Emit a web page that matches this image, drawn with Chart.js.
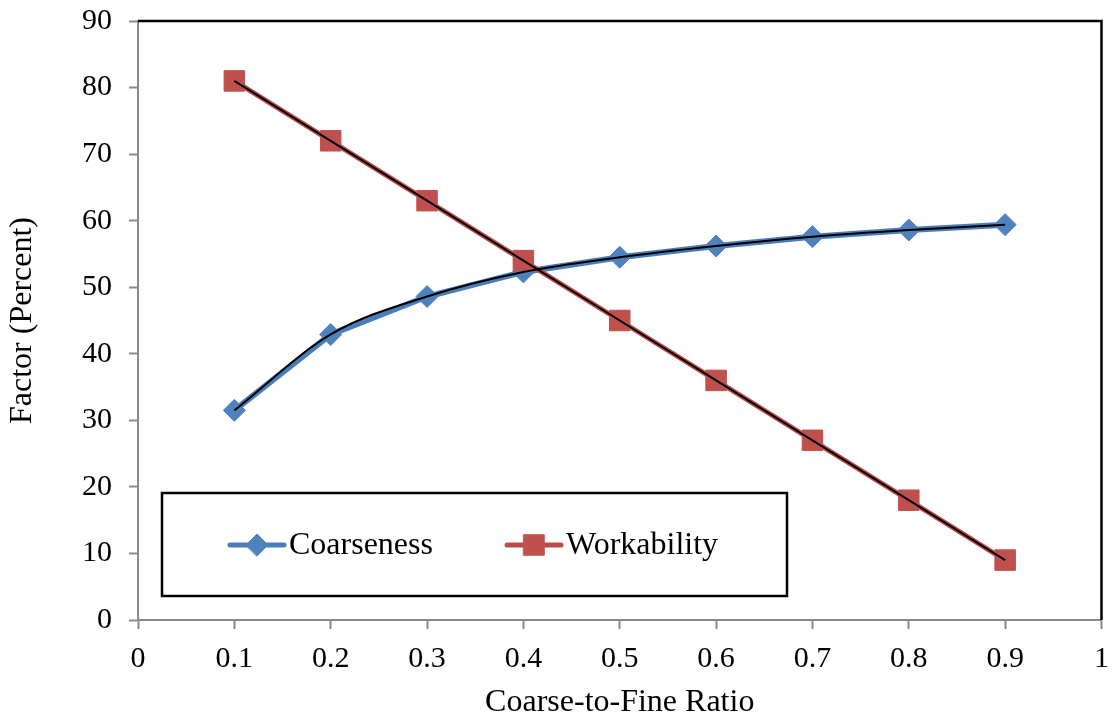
<!DOCTYPE html>
<html>
<head>
<meta charset="utf-8">
<script src="https://cdn.jsdelivr.net/npm/chart.js@4.4.1/dist/chart.umd.min.js"></script>
<style>
  html, body { margin: 0; padding: 0; background: #ffffff; }
  #wrap { width: 1117px; height: 722px; }
</style>
</head>
<body>
<div id="wrap"><canvas id="chart" width="1117" height="722"></canvas></div>
<script>
// Coarse-to-fine ratio on the x axis
const ratios = [0.1, 0.2, 0.3, 0.4, 0.5, 0.6, 0.7, 0.8, 0.9];
// Factor values in percent
const coarseness = [31.5, 42.9, 48.6, 52.3, 54.5, 56.2, 57.6, 58.6, 59.4];
const workability = [81, 72, 63, 54, 45, 36, 27, 18, 9];
// Axis tick labels
const xTickLabels = ['0', '0.1', '0.2', '0.3', '0.4', '0.5', '0.6', '0.7', '0.8', '0.9', '1'];
const yTickLabels = ['0', '10', '20', '30', '40', '50', '60', '70', '80', '90'];
const seriesNames = ['Coarseness', 'Workability'];

const SERIF = "'Liberation Serif', 'Times New Roman', serif";
const BLUE = '#4A7EBB', BLUE_MARK = '#4F81BD';
const RED = '#BE4B48', RED_MARK = '#C0504D';
const AXIS_GREY = '#898989';

const toPoints = (ys) => ratios.map((x, i) => ({ x: x, y: ys[i] }));

// Black top/right frame of the plot area
const frame = {
  id: 'frame',
  beforeDatasetsDraw(chart) {
    const { ctx, chartArea: a } = chart;
    ctx.save();
    ctx.strokeStyle = '#000';
    ctx.lineWidth = 2.5;
    ctx.beginPath();
    ctx.moveTo(a.left, a.top);
    ctx.lineTo(a.right, a.top);
    ctx.lineTo(a.right, a.bottom);
    ctx.stroke();
    ctx.restore();
  }
};

// Boxed legend sitting inside the plot
const boxedLegend = {
  id: 'boxedLegend',
  afterDraw(chart) {
    const { ctx } = chart;
    const box = { x: 162, y: 493, w: 625, h: 103 };
    ctx.save();
    ctx.fillStyle = '#fff';
    ctx.fillRect(box.x, box.y, box.w, box.h);
    ctx.strokeStyle = '#000';
    ctx.lineWidth = 2.5;
    ctx.strokeRect(box.x, box.y, box.w, box.h);

    const cy = box.y + 52;
    const starts = [230, 507];
    [0, 1].forEach((di) => {
      const ds = chart.data.datasets[di];
      const x0 = starts[di];
      ctx.strokeStyle = ds.borderColor;
      ctx.lineWidth = 5;
      ctx.lineCap = 'round';
      ctx.beginPath();
      ctx.moveTo(x0, cy);
      ctx.lineTo(x0 + 54, cy);
      ctx.stroke();
      ctx.fillStyle = ds.pointBackgroundColor;
      ctx.strokeStyle = ds.pointBorderColor;
      ctx.lineWidth = 1;
      Chart.helpers.drawPoint(ctx, {
        pointStyle: ds.pointStyle, radius: ds.pointRadius, rotation: 0, borderWidth: 1
      }, x0 + 27, cy);
      ctx.fillStyle = '#000';
      ctx.font = '32px ' + SERIF;
      ctx.textBaseline = 'middle';
      ctx.textAlign = 'left';
      ctx.fillText(ds.label, x0 + 59, cy + 1);
    });
    ctx.restore();
  }
};

new Chart(document.getElementById('chart'), {
  type: 'line',
  data: {
    datasets: [
      {
        label: seriesNames[0],
        data: toPoints(coarseness),
        borderColor: BLUE, borderWidth: 6, tension: 0,
        pointStyle: 'rectRot', pointRadius: 11,
        pointBackgroundColor: BLUE_MARK, pointBorderColor: BLUE_MARK, pointBorderWidth: 1,
        order: 2
      },
      {
        label: seriesNames[1],
        data: toPoints(workability),
        borderColor: RED, borderWidth: 5, tension: 0,
        pointStyle: 'rect', pointRadius: 14.5,
        pointBackgroundColor: RED_MARK, pointBorderColor: RED_MARK, pointBorderWidth: 1,
        order: 1
      },
      {
        label: seriesNames[0] + ' trend',
        data: toPoints(coarseness),
        borderColor: '#000', borderWidth: 2,
        cubicInterpolationMode: 'monotone',
        pointRadius: 0, order: 0
      },
      {
        label: seriesNames[1] + ' trend',
        data: toPoints(workability),
        borderColor: '#000', borderWidth: 2, tension: 0,
        pointRadius: 0, order: 0
      }
    ]
  },
  options: {
    responsive: false,
    animation: false,
    devicePixelRatio: 1,
    layout: { padding: { top: 21, right: 12, left: 0, bottom: 0 } },
    plugins: { legend: { display: false }, tooltip: { enabled: false } },
    scales: {
      x: {
        type: 'linear', min: 0, max: 1,
        ticks: {
          stepSize: 0.1, autoSkip: false, maxRotation: 0, color: '#000', padding: 12,
          font: { family: SERIF, size: 30 },
          callback: (v, i) => xTickLabels[i]
        },
        grid: { drawOnChartArea: false, drawTicks: true, tickLength: 9, color: AXIS_GREY, tickWidth: 2 },
        border: { color: AXIS_GREY, width: 2 },
        title: {
          display: true, text: 'Coarse-to-Fine Ratio', color: '#000',
          font: { family: SERIF, size: 32 }, padding: { top: 0, bottom: 0 }
        },
        afterFit(s) { s.height = 102; s.paddingLeft = 0; s.paddingRight = 0; }
      },
      y: {
        min: 0, max: 90,
        ticks: {
          stepSize: 10, color: '#000', padding: 17,
          font: { family: SERIF, size: 30 },
          callback: (v, i) => yTickLabels[i]
        },
        grid: { drawOnChartArea: false, drawTicks: true, tickLength: 9, color: AXIS_GREY, tickWidth: 2 },
        border: { color: AXIS_GREY, width: 2 },
        title: {
          display: true, text: 'Factor (Percent)', color: '#000',
          font: { family: SERIF, size: 32 }, padding: { top: 3, bottom: 0 }
        },
        afterFit(s) { s.width = 138; s.paddingTop = 0; s.paddingBottom = 0; }
      }
    }
  },
  plugins: [frame, boxedLegend]
});
</script>
</body>
</html>
